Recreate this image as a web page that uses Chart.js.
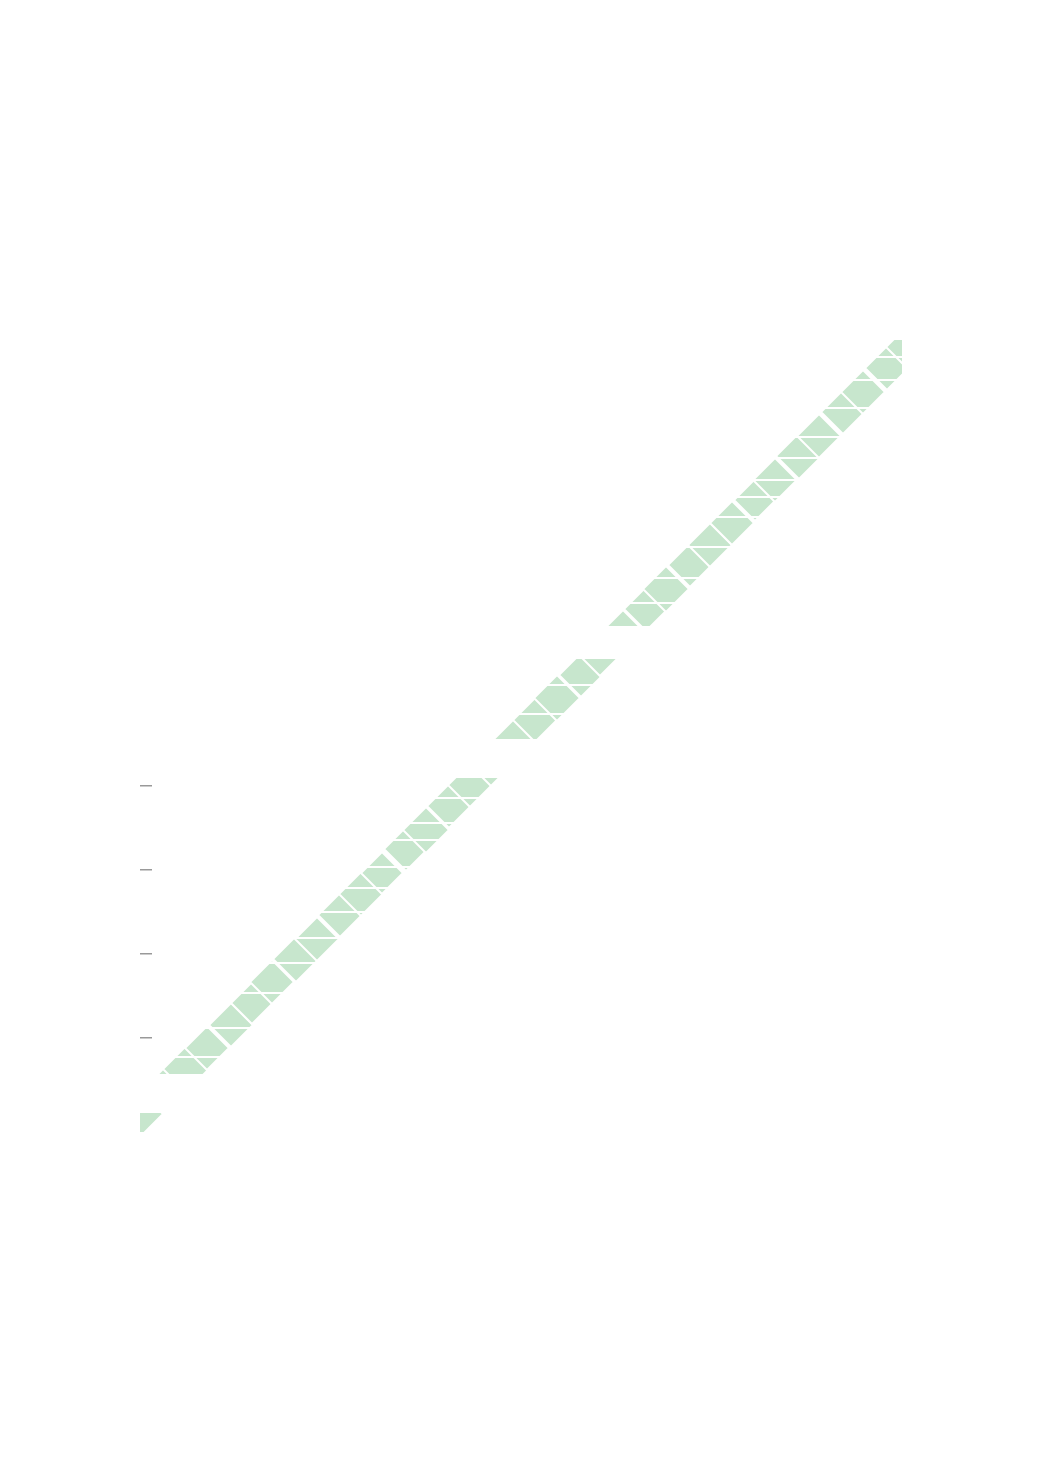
<!DOCTYPE html>
<html>
<head>
<meta charset="utf-8">
<script src="https://cdn.jsdelivr.net/npm/chart.js@4"></script>
<style>
  html, body { margin: 0; padding: 0; background: #fff; }
  #wrap { width: 1040px; height: 1471px; }
</style>
</head>
<body>
<div id="wrap"><canvas id="chart"></canvas></div>
<script>
// diamond cells along the band (x, y)
const cellX = [-32, -11, 13, 34, 55, 79, 100, 120, 144, 165, 188, 209, 230, 254, 274, 297, 318, 339, 363,
  383, 405, 429, 448, 471, 494, 514, 538, 558, 580, 603, 623, 647, 667, 691, 711, 735, 756];
const cellY = [-13, 8, 33, 53, 74, 97, 119, 140, 163, 183, 207, 228, 249, 273, 292, 316, 337, 358, 382,
  402, 424, 447, 467, 490, 513, 533, 557, 577, 599, 622, 642, 666, 686, 710, 730, 754, 775];
const cellSize = [22, 22, 22, 23, 22, 22, 21, 22, 23, 22, 22, 22, 21, 22, 23, 22, 22, 22, 22,
  22, 23, 22, 21, 22, 22, 23, 22, 22, 22, 21, 22, 23, 22, 22, 22, 22, 22];

// white row splits across the band
const splitX = [-9, 28, 46, 75, 110, 140, 165, 191, 215, 236, 263, 280, 305, 326, 363,
  389, 418, 445, 476, 500, 525, 556, 586, 606, 623, 645, 666, 695, 723, 746];
const splitY = [10, 47, 65, 94, 129, 159, 184, 210, 234, 255, 282, 299, 324, 345, 382,
  408, 437, 464, 495, 519, 544, 575, 605, 625, 642, 664, 685, 714, 742, 765];

// breaks in the band
const breakX = [18, 345, 461];
const breakY = [28, 363, 480];
const breakSpan = [36, 36, 30];

const yTicks = [84, 168, 252, 336];

const fill = "#c7e6cd";

function pts(xs, ys) {
  return xs.map((x, i) => ({ x: x, y: ys[i] }));
}

const bandClip = { left: 12, top: 0, right: 2, bottom: 2 };

const ctx = document.getElementById("chart").getContext("2d");

new Chart(ctx, {
  type: "scatter",
  data: {
    datasets: [
      {
        label: "breaks",
        data: pts(breakX, breakY),
        pointStyle: "line",
        pointRadius: 42,
        borderColor: "#fff",
        borderWidth: breakSpan,
        clip: bandClip,
      },
      {
        label: "splits",
        data: pts(splitX, splitY),
        pointStyle: "line",
        pointRadius: 25,
        borderColor: "#fff",
        borderWidth: 2,
        clip: bandClip,
      },
      {
        label: "cells",
        data: pts(cellX, cellY),
        pointStyle: "rectRot",
        pointRadius: cellSize,
        backgroundColor: fill,
        borderColor: "#fff",
        borderWidth: 2,
        clip: bandClip,
      },
    ],
  },
  options: {
    responsive: true,
    maintainAspectRatio: false,
    animation: false,
    layout: {
      padding: { left: 140, right: 140, top: 340, bottom: 341 },
    },
    plugins: {
      legend: { display: false },
      tooltip: { enabled: false },
    },
    scales: {
      x: {
        type: "linear",
        min: 0,
        max: 748,
        display: false,
      },
      y: {
        type: "linear",
        min: -8,
        max: 782,
        border: { display: false },
        afterFit: (s) => { s.width = 12; },
        grid: {
          drawOnChartArea: false,
          drawTicks: true,
          tickLength: 12,
          lineWidth: 1.5,
          color: (c) => (c.tick && yTicks.includes(c.tick.value) ? "#999" : "transparent"),
        },
        ticks: {
          stepSize: 84,
          display: false,
        },
      },
    },
  },
});
</script>
</body>
</html>
